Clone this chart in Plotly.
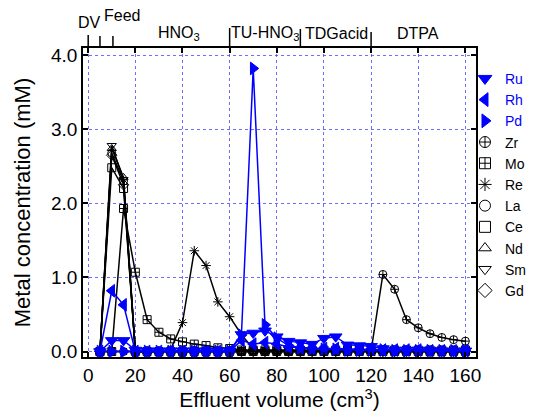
import plotly.graph_objects as go

volume = [5, 10, 15, 20, 25, 30, 35, 40, 45, 50, 55, 60, 65, 70, 75, 80,
          85, 90, 95, 100, 105, 110, 115, 120, 125, 130, 135, 140, 145, 150, 155, 160]

ru = [0, 0.15, 0.15, 0.02, 0.01, 0.01, 0.01, 0.01, 0.01, 0.01, 0.01, 0.01, 0.23, 0.25, 0.28, 0.20,
      0.14, 0.12, 0.10, 0.18, 0.20, 0.09, 0.08, 0.07, 0.04, 0.02, 0.02, 0.02, 0.02, 0.01, 0.01, 0.01]
rh = [0, 0.82, 0.63, 0.0, 0.0, 0.0, 0.0, 0.0, 0.0, 0.0, 0.0, 0.0, 0.15, 0.10, 0.12, 0.10,
      0.06, 0.05, 0.04, 0.04, 0.04, 0.03, 0.03, 0.03, 0.02, 0.02, 0.02, 0.02, 0.01, 0.01, 0.01, 0.01]
pd_ = [0, 0.0, 0.0, 0.0, 0.0, 0.0, 0.0, 0.0, 0.0, 0.0, 0.0, 0.0, 0.22, 3.82, 0.36, 0.18,
       0.08, 0.05, 0.04, 0.03, 0.03, 0.02, 0.02, 0.02, 0.02, 0.01, 0.01, 0.01, 0.01, 0.01, 0.01, 0.01]
zr = [0, 0, 0, 0, 0, 0, 0, 0, 0, 0, 0, 0, 0, 0, 0, 0,
      0, 0, 0, 0, 0, 0, 0, 0.01, 1.04, 0.84, 0.43, 0.32, 0.24, 0.19, 0.16, 0.14]
mo = [0, 0, 1.93, 1.07, 0.43, 0.26, 0.17, 0.13, 0.10, 0.08, 0.05, 0.04, 0.02, 0.02, 0.02, 0.02,
      0.02, 0.02, 0.02, 0.02, 0.02, 0.02, 0.02, 0.02, 0.02, 0.02, 0.02, 0.02, 0.02, 0.02, 0.02, 0.02]
re = [0, 0, 0, 0, 0, 0, 0.03, 0.39, 1.36, 1.16, 0.67, 0.47, 0.23, 0.03, 0.01, 0.01,
      0, 0, 0, 0, 0, 0, 0, 0, 0, 0, 0, 0, 0, 0, 0, 0]
la = [0, 2.68, 2.30, 0] + [0] * 28
ce = [0, 2.48, 2.20, 0] + [0] * 28
nd = [0, 2.74, 2.35, 0] + [0] * 28
sm = [0, 2.78, 2.32, 0] + [0] * 28
gd = [0, 2.65, 2.25, 0] + [0] * 28

names = ["Ru", "Rh", "Pd", "Zr", "Mo", "Re", "La", "Ce", "Nd", "Sm", "Gd"]
series = [ru, rh, pd_, zr, mo, re, la, ce, nd, sm, gd]
symbols = ["triangle-down", "triangle-left", "triangle-right", "circle-cross-open",
           "square-cross-open", "asterisk-open", "circle-open", "square-open",
           "triangle-up-open", "triangle-down-open", "diamond-open"]
colors = ["#0000ff", "#0000ff", "#0000ff"] + ["#000000"] * 8

stage_bounds = [0, 5, 10.5, 60, 90, 120]
stage_tick_px = [13, 12, 12, 20, 19, 16]
stage_labels = ["DV", "Feed", "HNO<sub>3</sub>", "TU-HNO<sub>3</sub>", "TDGacid", "DTPA"]
stage_label_x = [0.55, 14.3, 38.4, 75.2, 105.5, 139.7]
stage_label_px = [23, 15, 33, 33, 33, 33]

W, H = 549, 411
OFF = 8  # page body margin in the browser
ML, MT = 82.5 - OFF, 48 - OFF
PW, PH = 394, 309
MR, MB = W - ML - PW, H - MT - PH
FRAME_TOP_PAGE = 48

fig = go.Figure()

draw_order = [3, 4, 5, 6, 7, 8, 9, 10, 0, 1, 2]
for i in draw_order:
    is_blue = i < 3
    fig.add_trace(go.Scatter(
        x=volume, y=series[i], mode="lines+markers", showlegend=False,
        line=dict(color=colors[i], width=1.5),
        marker=dict(symbol=symbols[i], size=11 if is_blue else 8, color=colors[i],
                    line=dict(color=colors[i], width=1)),
        hoverinfo="skip"))

for i in range(len(names)):
    fig.add_trace(go.Scatter(
        x=[None], y=[None], mode="markers",
        name=(f"<span style='color:#0000ff'>{names[i]}</span>" if i < 3 else names[i]),
        marker=dict(symbol=symbols[i], size=12 if i < 3 else 11, color=colors[i],
                    line=dict(color=colors[i], width=1))))

for b, tp in zip(stage_bounds, stage_tick_px):
    fig.add_shape(type="line", xref="x", yref="paper", x0=b, x1=b,
                  y0=1, y1=1 + tp / PH, line=dict(color="black", width=1.5))

for lab, lx, lp in zip(stage_labels, stage_label_x, stage_label_px):
    fig.add_annotation(x=lx, xref="x", y=1 + (FRAME_TOP_PAGE - lp) / PH, yref="paper",
                       text=lab, showarrow=False, xanchor="center", yanchor="middle",
                       font=dict(size=16, color="black"))

axis_common = dict(showline=True, linecolor="black", linewidth=1.5, mirror="ticks",
                   ticks="inside", ticklen=5, tickwidth=1.5, tickcolor="black",
                   showgrid=True, gridcolor="rgba(60,60,255,0.75)", griddash="dot",
                   gridwidth=1, zeroline=False, automargin=False,
                   tickfont=dict(size=19, color="black"))

fig.update_layout(
    width=W, height=H,
    margin=dict(l=ML, r=MR, t=MT, b=MB, autoexpand=False),
    paper_bgcolor="white", plot_bgcolor="white",
    font=dict(family="Liberation Sans, Arial, sans-serif", color="black"),
    xaxis=dict(range=[-2.2, 164.5], tickmode="array", tickvals=[0, 20, 40, 60, 80, 100, 120, 140, 160],
               title=dict(text="Effluent volume (cm<sup>3</sup>)", font=dict(size=21), standoff=6),
               **axis_common),
    yaxis=dict(range=[-0.074, 4.096], tickmode="array", tickvals=[0, 1, 2, 3, 4],
               tickformat=".1f",
               title=dict(text="Metal concentration (mM)", font=dict(size=22), standoff=14),
               **axis_common),
    legend=dict(x=0.972, xanchor="left", y=0.952, yanchor="top", font=dict(size=14),
                bgcolor="rgba(0,0,0,0)", tracegroupgap=0, itemwidth=30),
)

fig.write_html("out.html")
